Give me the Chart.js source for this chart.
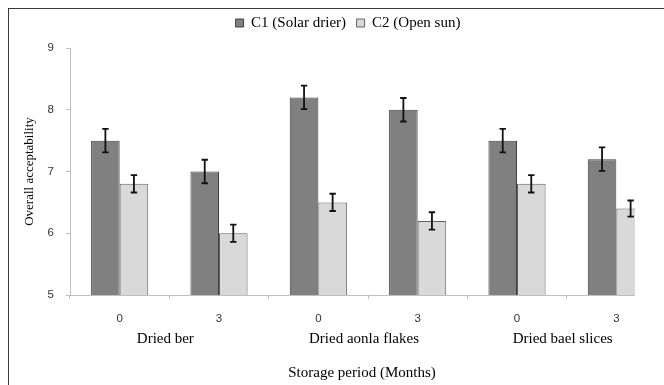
<!DOCTYPE html>
<html><head><meta charset="utf-8">
<script src="https://cdn.jsdelivr.net/npm/chart.js@4/dist/chart.umd.min.js"></script>
<style>
html,body{margin:0;padding:0;background:#fff;width:664px;height:385px;overflow:hidden;}
#frame{position:absolute;left:8px;top:8px;width:660px;height:380px;border-top:1.5px solid #3a3a3a;border-left:1.5px solid #3a3a3a;}
#clip{position:absolute;left:0;top:0;width:635px;height:385px;overflow:hidden;}
#wrap{position:absolute;left:0;top:0;width:666px;height:385px;}
</style></head><body>
<div id="frame"></div>
<div id="clip"><div id="wrap"><canvas id="c" width="666" height="385"></canvas></div></div>
<script>
const groups = ['Dried ber', 'Dried aonla flakes', 'Dried bael slices'];
const periods = ['0', '3', '0', '3', '0', '3'];
const seriesNames = ['C1 (Solar drier)', 'C2 (Open sun)'];
const c1 = [7.5, 7.0, 8.2, 8.0, 7.5, 7.2];
const c2 = [6.8, 6.0, 6.5, 6.2, 6.8, 6.4];
const c1Err = [0.19, 0.19, 0.19, 0.19, 0.19, 0.19];
const c2Err = [0.14, 0.14, 0.14, 0.14, 0.14, 0.13];
const yTicks = [5, 6, 7, 8, 9];

const serif = 'Liberation Serif';
const sans = 'Liberation Sans';

const boxFix = {
  id: 'boxFix',
  beforeInit(chart) {
    const lg = chart.legend;
    const f = lg.fit;
    lg.fit = function () { f.call(this); this.height = 48; };
  },
  afterLayout(chart) {
    const lg = chart.legend;
    lg.left += 15; lg.right += 15; lg.top += 5; lg.bottom += 5;
    const t = chart.titleBlock;
    if (t) { t.left += 29; t.right += 29; }
  }
};

const errorBars = {
  id: 'errorBars',
  afterDatasetsDraw(chart) {
    const ctx = chart.ctx;
    const ys = chart.scales.y;
    ctx.save();
    ctx.strokeStyle = '#111';
    ctx.lineWidth = 1.8;
    chart.data.datasets.forEach((ds, di) => {
      const meta = chart.getDatasetMeta(di);
      meta.data.forEach((bar, i) => {
        const v = ds.data[i], e = ds.errors[i];
        const yt = ys.getPixelForValue(v + e), yb = ys.getPixelForValue(v - e);
        const x = bar.x, cap = 3.2;
        ctx.beginPath();
        ctx.moveTo(x, yt); ctx.lineTo(x, yb);
        ctx.moveTo(x - cap, yt); ctx.lineTo(x + cap, yt);
        ctx.moveTo(x - cap, yb); ctx.lineTo(x + cap, yb);
        ctx.stroke();
      });
    });
    ctx.restore();
  }
};

new Chart(document.getElementById('c'), {
  type: 'bar',
  data: {
    labels: periods,
    datasets: [
      { label: seriesNames[0], data: c1, errors: c1Err, xAxisID: 'x',
        backgroundColor: '#808080', borderColor: '#404040', borderWidth: 1,
        barPercentage: 1, categoryPercentage: 0.575 },
      { label: seriesNames[1], data: c2, errors: c2Err, xAxisID: 'x',
        backgroundColor: '#d9d9d9', borderColor: '#606060', borderWidth: 1,
        barPercentage: 1, categoryPercentage: 0.575 }
    ]
  },
  options: {
    responsive: false,
    animation: false,
    devicePixelRatio: 1,
    layout: { padding: 0 },
    plugins: {
      legend: {
        position: 'top',
        labels: { boxWidth: 8, boxHeight: 8, padding: 10.5, color: '#000',
          font: { family: serif, size: 15 } }
      },
      title: {
        display: true, position: 'bottom', text: 'Storage period (Months)', color: '#000',
        font: { family: serif, size: 15, weight: 'normal' },
        padding: { top: 14, bottom: 3 }
      },
      tooltip: { enabled: false }
    },
    scales: {
      x: {
        type: 'category', labels: periods, offset: true,
        grid: { display: true, drawOnChartArea: false, offset: true, tickLength: 4, color: '#bfbfbf' },
        border: { color: '#bfbfbf' },
        ticks: { padding: 12.5, color: '#333', font: { family: sans, size: 11.5 } },
        afterFit: s => { s.height = 31; }
      },
      x2: {
        type: 'category', axis: 'x', position: 'bottom', labels: groups, offset: true,
        grid: { display: false, drawTicks: false },
        border: { display: false },
        ticks: { padding: 4.5, labelOffset: -4, color: '#000', font: { family: serif, size: 15 } },
        afterFit: s => { s.height = 24; }
      },
      y: {
        min: 5, max: 9,
        afterBuildTicks: s => { s.ticks = yTicks.map(v => ({ value: v })); },
        grid: { drawOnChartArea: false, tickLength: 4, color: '#bfbfbf' },
        border: { color: '#bfbfbf' },
        ticks: { padding: 12, color: '#333', font: { family: sans, size: 11.5 } },
        title: { display: true, text: 'Overall acceptability', color: '#000',
          font: { family: serif, size: 13 }, padding: { top: 22, bottom: 0 } },
        afterFit: s => { s.width = 70; }
      }
    }
  },
  plugins: [boxFix, errorBars]
});
</script>
</body></html>
